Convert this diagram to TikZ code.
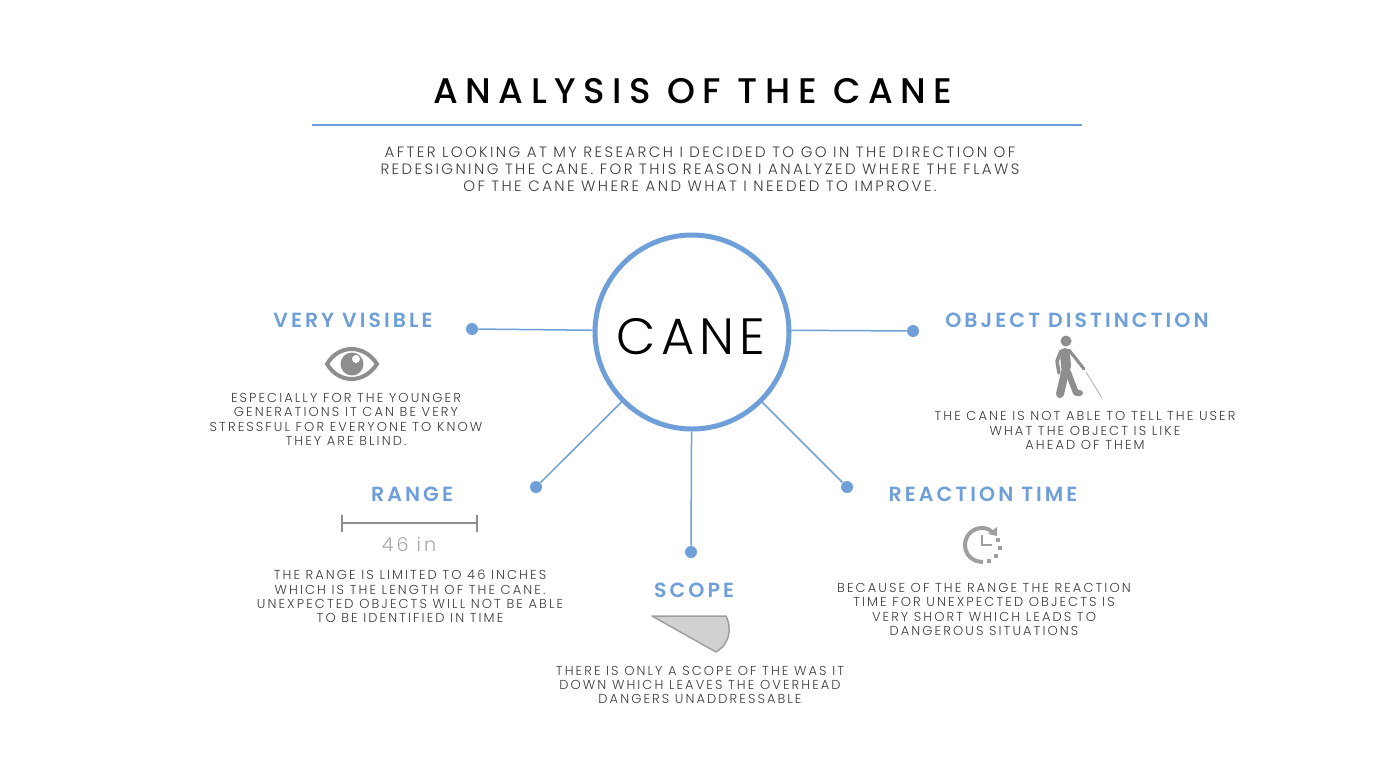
\documentclass[tikz,border=0pt]{standalone}
\usepackage{fontspec}
\setmainfont{Poppins}
\newfontfamily\titlefont[LetterSpace=21]{Poppins Medium}
\newfontfamily\hubfont[LetterSpace=10]{Poppins Light}
\newfontfamily\headfont[LetterSpace=15]{Poppins SemiBold}
\newfontfamily\blurbfont[LetterSpace=16]{Poppins Light}
\newfontfamily\introfont[LetterSpace=16]{Poppins Light}
\definecolor{caneblue}{HTML}{6F9FD8}
\definecolor{icongray}{HTML}{8E8E8E}
\definecolor{blurbgray}{HTML}{3C3C3C}
\begin{document}
\begin{tikzpicture}[x=1pt,y=-1pt,thick]
            %
            % `heading' is used for the blue section titles.
            % `blurb' is used for the small text under each icon.
            % `knob' is used for the dots at the end of the spokes.
            \tikzstyle{heading} = [text=caneblue,inner sep=0pt,font=\headfont\fontsize{20.5}{24}\selectfont]
            \tikzstyle{blurb} = [text=blurbgray,align=center,inner sep=0pt,font=\blurbfont\fontsize{13}{14.4}\selectfont]
            \tikzstyle{knob} = [fill=caneblue,shape=circle,minimum size=12pt,inner sep=0pt]
            \tikzstyle{spoke} = [draw=caneblue,line width=1.5pt]
            \tikzstyle{icon} = [icongray,line width=2pt]
            \useasboundingbox (0,0) rectangle (1400,782);
            %
            % Title
            \node[inner sep=0pt,font=\titlefont\fontsize{35.6}{42}\selectfont] (title) at (693,91) {ANALYSIS OF THE CANE};
            \coordinate (ruleL) at (312,125);
            \coordinate (ruleR) at (1082,125);
            \draw[caneblue,line width=2pt] (ruleL) -- (ruleR);
            \node[blurb,font=\introfont\fontsize{15}{17}\selectfont] (intro) at (700,169) {AFTER LOOKING AT MY RESEARCH I DECIDED TO GO IN THE DIRECTION OF\\REDESIGNING THE CANE. FOR THIS REASON I ANALYZED WHERE THE FLAWS\\OF THE CANE WHERE AND WHAT I NEEDED TO IMPROVE.};
            %
            % Hub
            \node[draw=caneblue,line width=5pt,circle,minimum size=194pt,inner sep=0pt] (hub) at (692,332) {};
            \node[inner sep=0pt,font=\hubfont\fontsize{51}{60}\selectfont] (hubtext) at (691,337) {CANE};
            %
            % Spokes
            \node[knob] (knob1) at (472,329) {} edge [spoke] (hub.179);
            \node[knob] (knob2) at (913,331) {} edge [spoke] (hub.1);
            \node[knob] (knob3) at (536,487) {} edge [spoke] (hub);
            \node[knob] (knob4) at (847,487) {} edge [spoke] (hub);
            \node[knob] (knob5) at (691,552) {} edge [spoke] (hub);
            %
            % Very visible
            \node[heading] (visible) at (353,320) {VERY VISIBLE};
            \draw[icon,line width=4pt] (327,364) .. controls (339,344) and (364,344) .. (377,364) .. controls (364,384) and (339,384) .. (327,364) -- cycle;
            \fill[icongray] (352,364) circle (11.5);
            \fill[white] (356,359) circle (4);
            \node[blurb] (visibletext) at (346,419.5) {ESPECIALLY FOR THE YOUNGER\\GENERATIONS IT CAN BE VERY\\STRESSFUL FOR EVERYONE TO KNOW\\THEY ARE BLIND.};
            %
            % Object distinction
            \node[heading] (object) at (1077,320) {OBJECT DISTINCTION};
            \fill[icongray] (1066,341) circle (5.5);
            \draw[icon,line width=10pt,line cap=round,line join=round] (1065,353) -- (1066,367);
            \draw[icon,line width=8pt,line cap=round,line join=round] (1066,368) -- (1060,394);
            \draw[icon,line width=6pt,line cap=round,line join=round] (1068,372) -- (1076,393) -- (1080,393);
            \draw[icon,line width=3pt,line cap=round,line join=round] (1069,350) -- (1084,369);
            \draw[icon,line width=3.5pt,line cap=round,line join=round] (1061,351) -- (1057,361) -- (1059,373);
            \draw[icongray!60,line width=1pt] (1086,372) -- (1102,398);
            \node[blurb] (objecttext) at (1085,430.5) {THE CANE IS NOT ABLE TO TELL THE USER\\WHAT THE OBJECT IS LIKE\\AHEAD OF THEM};
            %
            % Range
            \node[heading] (range) at (412,494) {RANGE};
            \coordinate (rangeL) at (342,523);
            \coordinate (rangeR) at (477,523);
            \draw[icon] (rangeL) -- (rangeR);
            \draw[icon] (342,515) -- (342,532);
            \draw[icon] (477,515) -- (477,532);
            \node[inner sep=0pt,text=black!35,font=\blurbfont\fontsize{19}{22}\selectfont] (rangevalue) at (409,544) {46 in};
            \node[blurb] (rangetext) at (410,596.5) {THE RANGE IS LIMITED TO 46 INCHES\\WHICH IS THE LENGTH OF THE CANE.\\UNEXPECTED OBJECTS WILL NOT BE ABLE\\TO BE IDENTIFIED IN TIME};
            %
            % Reaction time
            \node[heading] (reaction) at (983,494) {REACTION TIME};
            \draw[icongray!85,line width=4pt] (983,562) .. controls (972,562) and (965,554) .. (965,545) .. controls (965,535) and (973,528) .. (982,528) .. controls (986,528) and (989,529) .. (992,532);
            \fill[icongray!85] (997,527) -- (997,536) -- (988,534) -- cycle;
            \draw[icongray!85,line width=2pt] (982,535) -- (982,545) -- (992,545);
            \foreach \dotx/\doty in {998/540,1000/548,996/556,988.5/561}
                \fill[icongray!85] (\dotx-2,\doty-2) rectangle (\dotx+2,\doty+2);
            \node[blurb] (reactiontext) at (984,609.5) {BECAUSE OF THE RANGE THE REACTION\\TIME FOR UNEXPECTED OBJECTS IS\\VERY SHORT WHICH LEADS TO\\DANGEROUS SITUATIONS};
            %
            % Scope
            \node[heading] (scope) at (694,590) {SCOPE};
            \draw[draw=icongray!85,fill=black!18,line width=1.5pt,line join=round] (652,616) -- (726,616) .. controls (731,626) and (732,642) .. (716,652) -- cycle;
            \node[blurb] (scopetext) at (700,685) {THERE IS ONLY A SCOPE OF THE WAS IT\\DOWN WHICH LEAVES THE OVERHEAD\\DANGERS UNADDRESSABLE};
\end{tikzpicture}
\end{document}
